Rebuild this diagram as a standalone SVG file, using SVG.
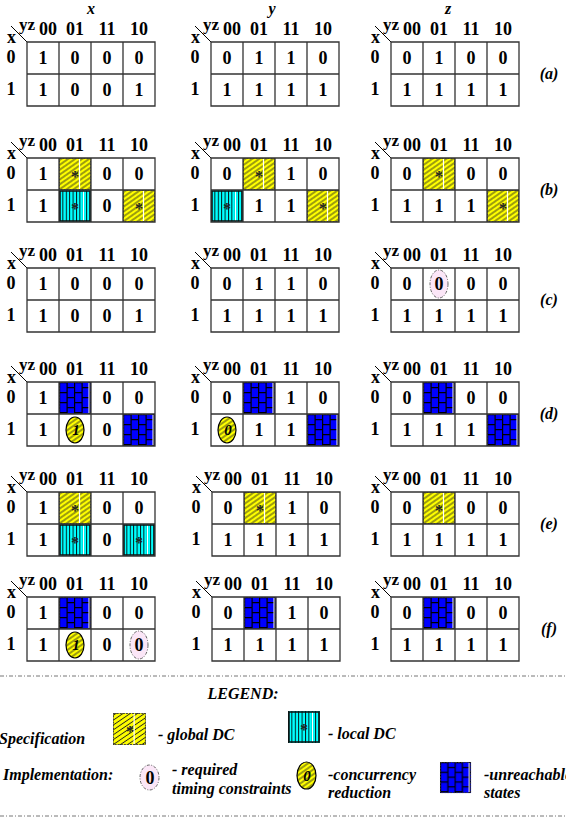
<svg xmlns="http://www.w3.org/2000/svg" xmlns:xlink="http://www.w3.org/1999/xlink" width="566" height="820" viewBox="0 0 566 820">
<style>
text{font-family:"Liberation Serif","Times New Roman",serif;font-weight:bold;font-size:18px;text-anchor:middle;fill:#000}
.st{text-anchor:start}
.it{font-style:italic}
.hd{font-size:17px}
.ttl{font-size:16px;font-style:italic}
.ast{font-size:16px;fill:#222}
.el{font-size:15px;font-style:italic}
.lg{font-size:16px;font-style:italic;text-anchor:start}
.grid{fill:none;stroke:#333;stroke-width:1.3}
.ln{stroke:#000;stroke-width:1}
.sep{stroke:#777;stroke-width:1;stroke-dasharray:4 2 1 2}
</style>
<defs>
<pattern id="hatch" width="4" height="4" patternUnits="userSpaceOnUse" patternTransform="rotate(-35)">
<rect width="4" height="4" fill="#ffff00"/><line x1="0" y1="2" x2="4" y2="2" stroke="#222" stroke-width="0.9"/>
</pattern>
<pattern id="vl" width="3.4" height="4" patternUnits="userSpaceOnUse">
<rect width="3.4" height="4" fill="#00ffff"/><line x1="0.5" y1="0" x2="0.5" y2="4" stroke="#000" stroke-width="0.9"/>
</pattern>
<pattern id="brick" width="15" height="10" patternUnits="userSpaceOnUse">
<rect width="15" height="10" fill="#0000ff"/>
<path d="M0.6 0V10M8.1 0V10M0 0.6H8.1M8.1 5.6H15" stroke="#000" stroke-width="1.2"/>
</pattern>
<g id="gdc"><rect width="32" height="32" fill="url(#hatch)"/><path d="M20.5 1V31" stroke="#fff" stroke-width="1.2"/><rect x="0.5" y="0.5" width="31" height="31" fill="none" stroke="#444" stroke-dasharray="2 1"/></g>
<g id="ldc"><rect width="32" height="32" fill="url(#vl)"/><path d="M24.5 1V31" stroke="#fff" stroke-width="1"/><rect x="1" y="1" width="30" height="30" fill="none" stroke="#111" stroke-width="1.5"/></g>
<g id="unr"><rect width="32" height="32" fill="url(#brick)"/><path d="M30 1V31" stroke="#fff" stroke-width="1"/><rect x="0.5" y="0.5" width="31" height="31" fill="none" stroke="#333" stroke-dasharray="2 1"/></g>
<ellipse id="conc" cx="16" cy="16" rx="9" ry="13" fill="url(#hatch)" stroke="#000" stroke-width="1.2"/>
<ellipse id="req" cx="16" cy="16" rx="9" ry="14" fill="#fbe6f7" stroke="#555" stroke-width="0.9" stroke-dasharray="3 1.5 1 1.5"/>
</defs>

<g id="titles">
<text class="ttl" x="91" y="14">x</text>
<text class="ttl" x="272" y="14">y</text>
<text class="ttl" x="448" y="14">z</text>
<text class="ttl" x="549" y="79">(a)</text>
<text class="ttl" x="549" y="195">(b)</text>
<text class="ttl" x="549" y="305">(c)</text>
<text class="ttl" x="549" y="419">(d)</text>
<text class="ttl" x="549" y="529">(e)</text>
<text class="ttl" x="549" y="634">(f)</text>
</g>

<!-- (a) -->
<g id="map-a-x" transform="translate(27,42)">
<path class="ln" d="M-16 -16L0 0"/><text class="hd st" x="-8" y="-12">yz</text>
<text x="21" y="-7">00</text><text x="48" y="-7">01</text><text x="80" y="-7">11</text><text x="112" y="-7">10</text>
<text x="-15.5" y="1">x</text><text x="-16" y="21">0</text><text x="-16" y="53">1</text>
<path class="grid" d="M0 0H128V64H0ZM32 0V64M64 0V64M96 0V64M0 32H128"/>
<text x="16" y="22">1</text><text x="48" y="22">0</text><text x="80" y="22">0</text><text x="112" y="22">0</text>
<text x="16" y="54">1</text><text x="48" y="54">0</text><text x="80" y="54">0</text><text x="112" y="54">1</text>
</g>
<g id="map-a-y" transform="translate(211,42)">
<path class="ln" d="M-16 -16L0 0"/><text class="hd st" x="-8" y="-12">yz</text>
<text x="21" y="-7">00</text><text x="48" y="-7">01</text><text x="80" y="-7">11</text><text x="112" y="-7">10</text>
<text x="-15.5" y="1">x</text><text x="-16" y="21">0</text><text x="-16" y="53">1</text>
<path class="grid" d="M0 0H128V64H0ZM32 0V64M64 0V64M96 0V64M0 32H128"/>
<text x="16" y="22">0</text><text x="48" y="22">1</text><text x="80" y="22">1</text><text x="112" y="22">0</text>
<text x="16" y="54">1</text><text x="48" y="54">1</text><text x="80" y="54">1</text><text x="112" y="54">1</text>
</g>
<g id="map-a-z" transform="translate(391,42)">
<path class="ln" d="M-16 -16L0 0"/><text class="hd st" x="-8" y="-12">yz</text>
<text x="21" y="-7">00</text><text x="48" y="-7">01</text><text x="80" y="-7">11</text><text x="112" y="-7">10</text>
<text x="-15.5" y="1">x</text><text x="-16" y="21">0</text><text x="-16" y="53">1</text>
<path class="grid" d="M0 0H128V64H0ZM32 0V64M64 0V64M96 0V64M0 32H128"/>
<text x="16" y="22">0</text><text x="48" y="22">1</text><text x="80" y="22">0</text><text x="112" y="22">0</text>
<text x="16" y="54">1</text><text x="48" y="54">1</text><text x="80" y="54">1</text><text x="112" y="54">1</text>
</g>

<!-- (b) -->
<g id="map-b-x" transform="translate(27,158)">
<path class="ln" d="M-16 -16L0 0"/><text class="hd st" x="-8" y="-12">yz</text>
<text x="21" y="-7">00</text><text x="48" y="-7">01</text><text x="80" y="-7">11</text><text x="112" y="-7">10</text>
<text x="-15.5" y="1">x</text><text x="-16" y="21">0</text><text x="-16" y="53">1</text>
<use xlink:href="#gdc" x="32" y="0"/><use xlink:href="#ldc" x="32" y="32"/><use xlink:href="#gdc" x="96" y="32"/>
<path class="grid" d="M0 0H128V64H0ZM32 0V64M64 0V64M96 0V64M0 32H128"/>
<text x="16" y="22">1</text><text class="ast" x="48" y="24">*</text><text x="80" y="22">0</text><text x="112" y="22">0</text>
<text x="16" y="54">1</text><text class="ast" x="48" y="56">*</text><text x="80" y="54">0</text><text class="ast" x="112" y="56">*</text>
</g>
<g id="map-b-y" transform="translate(211,158)">
<path class="ln" d="M-16 -16L0 0"/><text class="hd st" x="-8" y="-12">yz</text>
<text x="21" y="-7">00</text><text x="48" y="-7">01</text><text x="80" y="-7">11</text><text x="112" y="-7">10</text>
<text x="-15.5" y="1">x</text><text x="-16" y="21">0</text><text x="-16" y="53">1</text>
<use xlink:href="#gdc" x="32" y="0"/><use xlink:href="#ldc" x="0" y="32"/><use xlink:href="#gdc" x="96" y="32"/>
<path class="grid" d="M0 0H128V64H0ZM32 0V64M64 0V64M96 0V64M0 32H128"/>
<text x="16" y="22">0</text><text class="ast" x="48" y="24">*</text><text x="80" y="22">1</text><text x="112" y="22">0</text>
<text class="ast" x="16" y="56">*</text><text x="48" y="54">1</text><text x="80" y="54">1</text><text class="ast" x="112" y="56">*</text>
</g>
<g id="map-b-z" transform="translate(391,158)">
<path class="ln" d="M-16 -16L0 0"/><text class="hd st" x="-8" y="-12">yz</text>
<text x="21" y="-7">00</text><text x="48" y="-7">01</text><text x="80" y="-7">11</text><text x="112" y="-7">10</text>
<text x="-15.5" y="1">x</text><text x="-16" y="21">0</text><text x="-16" y="53">1</text>
<use xlink:href="#gdc" x="32" y="0"/><use xlink:href="#gdc" x="96" y="32"/>
<path class="grid" d="M0 0H128V64H0ZM32 0V64M64 0V64M96 0V64M0 32H128"/>
<text x="16" y="22">0</text><text class="ast" x="48" y="24">*</text><text x="80" y="22">0</text><text x="112" y="22">0</text>
<text x="16" y="54">1</text><text x="48" y="54">1</text><text x="80" y="54">1</text><text class="ast" x="112" y="56">*</text>
</g>

<!-- (c) -->
<g id="map-c-x" transform="translate(27,268)">
<path class="ln" d="M-16 -16L0 0"/><text class="hd st" x="-8" y="-12">yz</text>
<text x="21" y="-7">00</text><text x="48" y="-7">01</text><text x="80" y="-7">11</text><text x="112" y="-7">10</text>
<text x="-15.5" y="1">x</text><text x="-16" y="21">0</text><text x="-16" y="53">1</text>
<path class="grid" d="M0 0H128V64H0ZM32 0V64M64 0V64M96 0V64M0 32H128"/>
<text x="16" y="22">1</text><text x="48" y="22">0</text><text x="80" y="22">0</text><text x="112" y="22">0</text>
<text x="16" y="54">1</text><text x="48" y="54">0</text><text x="80" y="54">0</text><text x="112" y="54">1</text>
</g>
<g id="map-c-y" transform="translate(211,268)">
<path class="ln" d="M-16 -16L0 0"/><text class="hd st" x="-8" y="-12">yz</text>
<text x="21" y="-7">00</text><text x="48" y="-7">01</text><text x="80" y="-7">11</text><text x="112" y="-7">10</text>
<text x="-15.5" y="1">x</text><text x="-16" y="21">0</text><text x="-16" y="53">1</text>
<path class="grid" d="M0 0H128V64H0ZM32 0V64M64 0V64M96 0V64M0 32H128"/>
<text x="16" y="22">0</text><text x="48" y="22">1</text><text x="80" y="22">1</text><text x="112" y="22">0</text>
<text x="16" y="54">1</text><text x="48" y="54">1</text><text x="80" y="54">1</text><text x="112" y="54">1</text>
</g>
<g id="map-c-z" transform="translate(391,268)">
<path class="ln" d="M-16 -16L0 0"/><text class="hd st" x="-8" y="-12">yz</text>
<text x="21" y="-7">00</text><text x="48" y="-7">01</text><text x="80" y="-7">11</text><text x="112" y="-7">10</text>
<text x="-15.5" y="1">x</text><text x="-16" y="21">0</text><text x="-16" y="53">1</text>
<path class="grid" d="M0 0H128V64H0ZM32 0V64M64 0V64M96 0V64M0 32H128"/>
<use xlink:href="#req" x="32" y="0"/>
<text x="16" y="22">0</text><text x="48" y="22">0</text><text x="80" y="22">0</text><text x="112" y="22">0</text>
<text x="16" y="54">1</text><text x="48" y="54">1</text><text x="80" y="54">1</text><text x="112" y="54">1</text>
</g>

<!-- (d) -->
<g id="map-d-x" transform="translate(27,382)">
<path class="ln" d="M-16 -16L0 0"/><text class="hd st" x="-8" y="-12">yz</text>
<text x="21" y="-7">00</text><text x="48" y="-7">01</text><text x="80" y="-7">11</text><text x="112" y="-7">10</text>
<text x="-15.5" y="1">x</text><text x="-16" y="21">0</text><text x="-16" y="53">1</text>
<use xlink:href="#unr" x="32" y="0"/><use xlink:href="#unr" x="96" y="32"/>
<path class="grid" d="M0 0H128V64H0ZM32 0V64M64 0V64M96 0V64M0 32H128"/>
<use xlink:href="#conc" x="32" y="32"/>
<text x="16" y="22">1</text><text x="80" y="22">0</text><text x="112" y="22">0</text>
<text x="16" y="54">1</text><text class="el" x="49" y="53">1</text><text x="80" y="54">0</text>
</g>
<g id="map-d-y" transform="translate(211,382)">
<path class="ln" d="M-16 -16L0 0"/><text class="hd st" x="-8" y="-12">yz</text>
<text x="21" y="-7">00</text><text x="48" y="-7">01</text><text x="80" y="-7">11</text><text x="112" y="-7">10</text>
<text x="-15.5" y="1">x</text><text x="-16" y="21">0</text><text x="-16" y="53">1</text>
<use xlink:href="#unr" x="32" y="0"/><use xlink:href="#unr" x="96" y="32"/>
<path class="grid" d="M0 0H128V64H0ZM32 0V64M64 0V64M96 0V64M0 32H128"/>
<use xlink:href="#conc" x="0" y="32"/>
<text x="16" y="22">0</text><text x="80" y="22">1</text><text x="112" y="22">0</text>
<text class="el" x="17" y="53">0</text><text x="48" y="54">1</text><text x="80" y="54">1</text>
</g>
<g id="map-d-z" transform="translate(391,382)">
<path class="ln" d="M-16 -16L0 0"/><text class="hd st" x="-8" y="-12">yz</text>
<text x="21" y="-7">00</text><text x="48" y="-7">01</text><text x="80" y="-7">11</text><text x="112" y="-7">10</text>
<text x="-15.5" y="1">x</text><text x="-16" y="21">0</text><text x="-16" y="53">1</text>
<use xlink:href="#unr" x="32" y="0"/><use xlink:href="#unr" x="96" y="32"/>
<path class="grid" d="M0 0H128V64H0ZM32 0V64M64 0V64M96 0V64M0 32H128"/>
<text x="16" y="22">0</text><text x="80" y="22">0</text><text x="112" y="22">0</text>
<text x="16" y="54">1</text><text x="48" y="54">1</text><text x="80" y="54">1</text>
</g>

<!-- (e) -->
<g id="map-e-x" transform="translate(27,492)">
<path class="ln" d="M-16 -16L0 0"/><text class="hd st" x="-8" y="-12">yz</text>
<text x="21" y="-7">00</text><text x="48" y="-7">01</text><text x="80" y="-7">11</text><text x="112" y="-7">10</text>
<text x="-15.5" y="1">x</text><text x="-16" y="21">0</text><text x="-16" y="53">1</text>
<use xlink:href="#gdc" x="32" y="0"/><use xlink:href="#ldc" x="32" y="32"/><use xlink:href="#ldc" x="96" y="32"/>
<path class="grid" d="M0 0H128V64H0ZM32 0V64M64 0V64M96 0V64M0 32H128"/>
<text x="16" y="22">1</text><text class="ast" x="48" y="24">*</text><text x="80" y="22">0</text><text x="112" y="22">0</text>
<text x="16" y="54">1</text><text class="ast" x="48" y="56">*</text><text x="80" y="54">0</text><text class="ast" x="112" y="56">*</text>
</g>
<g id="map-e-y" transform="translate(212,492)">
<path class="ln" d="M-16 -16L0 0"/><text class="hd st" x="-8" y="-12">yz</text>
<text x="21" y="-7">00</text><text x="48" y="-7">01</text><text x="80" y="-7">11</text><text x="112" y="-7">10</text>
<text x="-15.5" y="1">x</text><text x="-16" y="21">0</text><text x="-16" y="53">1</text>
<use xlink:href="#gdc" x="32" y="0"/>
<path class="grid" d="M0 0H128V64H0ZM32 0V64M64 0V64M96 0V64M0 32H128"/>
<text x="16" y="22">0</text><text class="ast" x="48" y="24">*</text><text x="80" y="22">1</text><text x="112" y="22">0</text>
<text x="16" y="54">1</text><text x="48" y="54">1</text><text x="80" y="54">1</text><text x="112" y="54">1</text>
</g>
<g id="map-e-z" transform="translate(391,492)">
<path class="ln" d="M-16 -16L0 0"/><text class="hd st" x="-8" y="-12">yz</text>
<text x="21" y="-7">00</text><text x="48" y="-7">01</text><text x="80" y="-7">11</text><text x="112" y="-7">10</text>
<text x="-15.5" y="1">x</text><text x="-16" y="21">0</text><text x="-16" y="53">1</text>
<use xlink:href="#gdc" x="32" y="0"/>
<path class="grid" d="M0 0H128V64H0ZM32 0V64M64 0V64M96 0V64M0 32H128"/>
<text x="16" y="22">0</text><text class="ast" x="48" y="24">*</text><text x="80" y="22">0</text><text x="112" y="22">0</text>
<text x="16" y="54">1</text><text x="48" y="54">1</text><text x="80" y="54">1</text><text x="112" y="54">1</text>
</g>

<!-- (f) -->
<g id="map-f-x" transform="translate(27,597)">
<path class="ln" d="M-16 -16L0 0"/><text class="hd st" x="-8" y="-12">yz</text>
<text x="21" y="-7">00</text><text x="48" y="-7">01</text><text x="80" y="-7">11</text><text x="112" y="-7">10</text>
<text x="-15.5" y="1">x</text><text x="-16" y="21">0</text><text x="-16" y="53">1</text>
<use xlink:href="#unr" x="32" y="0"/>
<path class="grid" d="M0 0H128V64H0ZM32 0V64M64 0V64M96 0V64M0 32H128"/>
<use xlink:href="#conc" x="32" y="32"/><use xlink:href="#req" x="96" y="32"/>
<text x="16" y="22">1</text><text x="80" y="22">0</text><text x="112" y="22">0</text>
<text x="16" y="54">1</text><text class="el" x="49" y="53">1</text><text x="80" y="54">0</text><text x="112" y="54">0</text>
</g>
<g id="map-f-y" transform="translate(212,597)">
<path class="ln" d="M-16 -16L0 0"/><text class="hd st" x="-8" y="-12">yz</text>
<text x="21" y="-7">00</text><text x="48" y="-7">01</text><text x="80" y="-7">11</text><text x="112" y="-7">10</text>
<text x="-15.5" y="1">x</text><text x="-16" y="21">0</text><text x="-16" y="53">1</text>
<use xlink:href="#unr" x="32" y="0"/>
<path class="grid" d="M0 0H128V64H0ZM32 0V64M64 0V64M96 0V64M0 32H128"/>
<text x="16" y="22">0</text><text x="80" y="22">1</text><text x="112" y="22">0</text>
<text x="16" y="54">1</text><text x="48" y="54">1</text><text x="80" y="54">1</text><text x="112" y="54">1</text>
</g>
<g id="map-f-z" transform="translate(391,597)">
<path class="ln" d="M-16 -16L0 0"/><text class="hd st" x="-8" y="-12">yz</text>
<text x="21" y="-7">00</text><text x="48" y="-7">01</text><text x="80" y="-7">11</text><text x="112" y="-7">10</text>
<text x="-15.5" y="1">x</text><text x="-16" y="21">0</text><text x="-16" y="53">1</text>
<use xlink:href="#unr" x="32" y="0"/>
<path class="grid" d="M0 0H128V64H0ZM32 0V64M64 0V64M96 0V64M0 32H128"/>
<text x="16" y="22">0</text><text x="80" y="22">0</text><text x="112" y="22">0</text>
<text x="16" y="54">1</text><text x="48" y="54">1</text><text x="80" y="54">1</text><text x="112" y="54">1</text>
</g>

<!-- legend -->
<g id="legend">
<line class="sep" x1="0" y1="676" x2="566" y2="676"/>
<line class="sep" x1="0" y1="816" x2="566" y2="816"/>
<text class="ttl" x="243" y="699">LEGEND:</text>
<text class="lg" x="-1" y="744">Specification</text>
<use xlink:href="#gdc" transform="translate(113,713) scale(1.03,1)"/>
<text class="ast" x="130" y="737">*</text>
<text class="lg" x="158" y="740">- global DC</text>
<use xlink:href="#ldc" x="288" y="711"/>
<text class="ast" x="304" y="735">*</text>
<text class="lg" x="328" y="739">- local DC</text>
<text class="lg" x="3" y="780">Implementation:</text>
<ellipse cx="149.5" cy="777.5" rx="9.5" ry="12.5" fill="#fbe6f7" stroke="#555" stroke-width="0.9" stroke-dasharray="3 1.5 1 1.5"/>
<text x="150" y="784">0</text>
<text class="lg" x="172" y="775">- required</text>
<text class="lg" x="172" y="794">timing constraints</text>
<ellipse cx="306.5" cy="775.5" rx="9.5" ry="13.5" fill="url(#hatch)" stroke="#000" stroke-width="1.2"/>
<text class="el" x="307" y="781">0</text>
<text class="lg" x="328" y="780">-concurrency</text>
<text class="lg" x="328" y="798">reduction</text>
<use xlink:href="#unr" transform="translate(440,762) scale(0.97)"/>
<text class="lg" x="484" y="780">-unreachable</text>
<text class="lg" x="484" y="798">states</text>
</g>
</svg>
